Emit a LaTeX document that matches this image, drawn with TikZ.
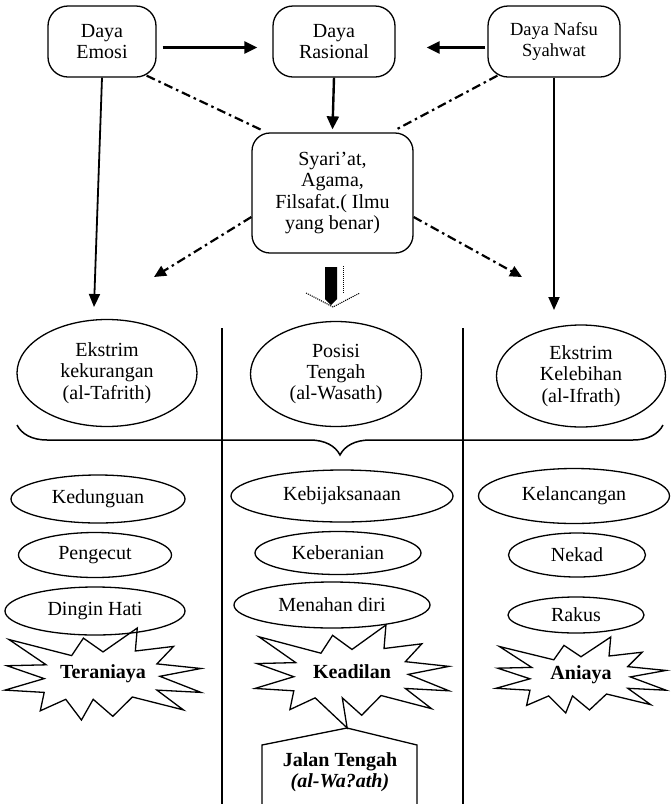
\documentclass[tikz,border=0pt]{standalone}
\usepackage{fontspec}
\setmainfont{Liberation Serif}
\usetikzlibrary{shapes.geometric,decorations.pathreplacing,arrows.meta,calc}
\begin{document}
\begin{tikzpicture}[x=1pt,y=-1pt,
  every node/.style={font=\fontsize{20}{21.5}\selectfont, align=center},
  topbox/.style={draw, line width=1.3pt, rounded corners=20pt, minimum height=71pt, inner sep=0pt},
  oval/.style={draw, ellipse, line width=1.3pt, inner sep=0pt},
  burstlabel/.style={font=\bfseries\fontsize{20}{22}\selectfont, inner sep=2pt},
  arr/.style={line width=2.4pt, -{Triangle[length=13pt,width=12pt]}},
  arrthin/.style={line width=1.8pt, -{Triangle[length=13pt,width=11pt]}},
  dd/.style={line width=2.2pt, dash pattern=on 9pt off 4pt on 2.5pt off 4pt},
  pics/burst/.style={code={
    \draw[line width=1.3pt, line join=miter]
      (-0.96,-0.75) -- (-0.32,-0.40) -- (-0.20,-0.78) -- (0.00,-0.48) --
      (0.35,-1.00) -- (0.33,-0.50) -- (0.72,-0.60) -- (0.55,-0.22) --
      (1.00,-0.12) -- (0.58,0.05) -- (1.00,0.40) -- (0.55,0.35) --
      (0.82,0.78) -- (0.30,0.50) -- (0.10,0.92) -- (-0.10,0.55) --
      (#1) -- (-0.38,0.55) -- (-0.64,0.80) -- (-0.60,0.40) --
      (-1.00,0.35) -- (-0.60,0.10) -- (-0.98,-0.18) -- (-0.58,-0.20) -- cycle;
  }},
]
\useasboundingbox (0,0) rectangle (671,804);
% top row
\node[topbox, minimum width=108pt] (emosi) at (102,41.5) {Daya\\Emosi};
\node[topbox, minimum width=122pt] (rasional) at (334,41.5) {Daya\\Rasional};
\node[topbox, minimum width=132pt, font=\fontsize{18.5}{21}\selectfont] (nafsu) at (554,41.5) {Daya Nafsu\\Syahwat};
\node[topbox, rounded corners=18pt, minimum width=161pt, minimum height=120pt] (syariat) at (332.5,193) {Syari’at,\\Agama,\\Filsafat.( Ilmu\\yang benar)};
% big ellipses
\node[oval, minimum width=180pt, minimum height=107pt] (kurang) at (107,373) {Ekstrim\\kekurangan\\(al-Tafrith)};
\node[oval, minimum width=171pt, minimum height=105pt] (tengah) at (336,374) {Posisi\\Tengah\\(al-Wasath)};
\node[oval, minimum width=169pt, minimum height=102pt] (lebih) at (581,376) {Ekstrim\\Kelebihan\\(al-Ifrath)};
% small ellipses
\node[oval, minimum width=174pt, minimum height=48pt] (dungu) at (98,499) {Kedunguan};
\node[oval, minimum width=153pt, minimum height=45pt] (cut) at (95,555) {Pengecut};
\node[oval, minimum width=180pt, minimum height=48pt] (dingin) at (95,611) {Dingin Hati};
\node[oval, minimum width=222pt, minimum height=52pt] (bijak) at (342,496) {Kebijaksanaan};
\node[oval, minimum width=166pt, minimum height=43pt] (berani) at (338,553) {Keberanian};
\node[oval, minimum width=196pt, minimum height=46pt] (tahan) at (332,605) {Menahan diri};
\node[oval, minimum width=191pt, minimum height=55pt] (lancang) at (574,496) {Kelancangan};
\node[oval, minimum width=137pt, minimum height=44pt] (nekad) at (577,555) {Nekad};
\node[oval, minimum width=136pt, minimum height=36pt] (rakus) at (576,615) {Rakus};
% starbursts
\node[burstlabel] (teraniaya) at (103,674) {Teraniaya};
\node[burstlabel] (adil) at (352,672) {Keadilan};
\node[burstlabel] (aniaya) at (581,675) {Aniaya};
\pic[x=98pt, y=-46pt] at (teraniaya.center) {burst={-0.22,1.0}};
\pic[x=97pt, y=-47pt] at (adil.center) {burst={-0.05,1.19}};
\pic[x=85pt, y=-38pt] at (aniaya.center) {burst={-0.18,1.0}};
% jalan tengah
\node[font=\bfseries\fontsize{20}{21.5}\selectfont] (jalan) at (340,772) {Jalan Tengah\\\textit{(al-Wa?ath)}};
\draw[line width=1.3pt] (262,806) -- (262,745) -- (347,728) -- (417,745) -- (417,806);
% dividers and brace
\draw[line width=1.3pt] (222,328) -- (222,806);
\draw[line width=1.3pt] (463,328) -- (463,806);
\draw[line width=1.5pt, decorate, decoration={brace, mirror, amplitude=30pt}] (17,425) -- (663,425);
% connectors
\draw[arr] ([xshift=6pt,yshift=-6pt]emosi.east) -- ([xshift=-15pt,yshift=-6pt]rasional.west);
\draw[arr] ([xshift=-2pt,yshift=-6pt]nafsu.west) -- ([xshift=31pt,yshift=-6pt]rasional.east);
\draw[arr] (rasional.south) -- ([yshift=3pt]syariat.north);
\draw[dd] ([xshift=-10pt,yshift=2pt]emosi.south east) -- ([xshift=11pt,yshift=2pt]syariat.north west);
\draw[dd] ([xshift=10pt,yshift=2pt]nafsu.south west) -- ([xshift=-19pt,yshift=2pt]syariat.north east);
\coordinate (dl) at (154,277);
\coordinate (dr) at (522,277);
\draw[dd, -{Triangle[length=12pt,width=11pt]}] ([yshift=-24pt]syariat.west) -- (dl);
\draw[dd, -{Triangle[length=12pt,width=11pt]}] ([yshift=-24pt]syariat.east) -- (dr);
\coordinate (kl) at (94,307);
\coordinate (kr) at (554,310);
\draw[arrthin] (emosi.south) -- (kl);
\draw[arrthin] (nafsu.south) -- (kr);
% block arrow
\fill (325,267) -- (337,267) -- (337,299) -- (331,305) -- (325,299) -- cycle;
\draw[line width=1pt, densely dotted] (343,266) -- (343,293);
\draw[line width=1.1pt, densely dotted] (306,293) -- (312,296) -- (333,307) -- (354,296) -- (360,293);
\end{tikzpicture}
\end{document}
